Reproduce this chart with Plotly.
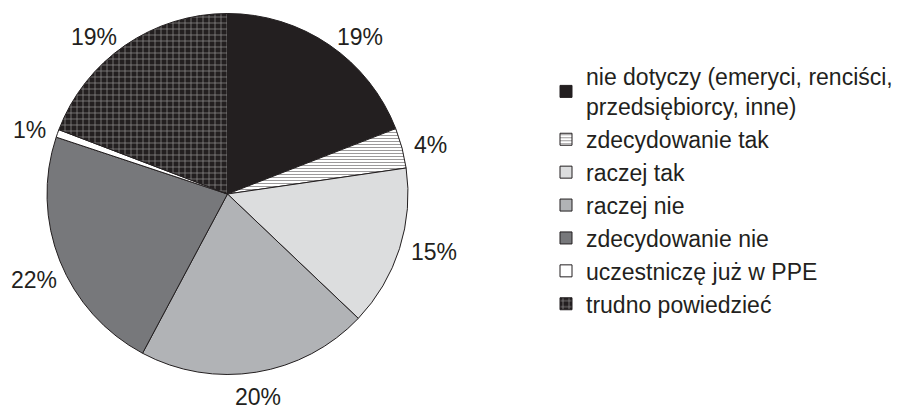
import math
import plotly.graph_objects as go

labels = [
    "nie dotyczy (emeryci, renciści,<br>przedsiębiorcy, inne)",
    "zdecydowanie tak",
    "raczej tak",
    "raczej nie",
    "zdecydowanie nie",
    "uczestniczę już w PPE",
    "trudno powiedzieć",
]
values = [19.1, 3.6, 14.4, 20.7, 22.3, 0.7, 19.2]
text_labels = ["19%", "4%", "15%", "20%", "22%", "1%", "19%"]
colors = ["#231f20", "#ffffff", "#dcddde", "#b1b3b6", "#77787b", "#ffffff", "#231f20"]
pattern_shapes = ["", "-", "", "", "", "", "+"]
pattern_fg = ["#231f20", "#231f20", "#dcddde", "#b1b3b6", "#77787b", "#ffffff", "#ffffff"]
pattern_size = [6, 3, 6, 6, 6, 6, 6]
pattern_solidity = [0.3, 0.3, 0.3, 0.3, 0.3, 0.3, 0.22]

# the page body has an 8px margin, so the figure is 8px smaller than the window
W, H = 898, 403
OFF = 8
FONT = "Liberation Sans, Arial, Helvetica, sans-serif"
INK = "#231f20"
FS = 23

dom_x = [(47 - OFF) / W, (408 - OFF) / W]
dom_y = [1 - (375 - OFF) / H, 1 - (13 - OFF) / H]

fig = go.Figure(go.Pie(
    labels=labels,
    values=values,
    textinfo="none",
    sort=False,
    direction="clockwise",
    rotation=0,
    marker=dict(
        colors=colors,
        line=dict(color=INK, width=1),
        pattern=dict(shape=pattern_shapes, bgcolor=colors, fgcolor=pattern_fg,
                     size=pattern_size, solidity=pattern_solidity, fillmode="overlay"),
    ),
    domain=dict(x=dom_x, y=dom_y),
    hoverinfo="none",
))

# percentage labels placed outside the slices, computed from the slice mid-angles
cx = (dom_x[0] + dom_x[1]) / 2 * W
cy = (1 - (dom_y[0] + dom_y[1]) / 2) * H
R = min((dom_x[1] - dom_x[0]) * W, (dom_y[1] - dom_y[0]) * H) / 2
gap = 10
total = sum(values)
cum = 0.0
for v, t in zip(values, text_labels):
    mid = (cum + v / 2) / total * 2 * math.pi
    cum += v
    s, c = math.sin(mid), math.cos(mid)
    px = cx + (R + gap) * s
    py = cy - (R + gap) * c
    xa = "left" if s > 0.3 else ("right" if s < -0.3 else "center")
    if abs(s) <= 0.3:
        ya = "bottom" if c > 0 else "top"
    elif c < -0.35:
        ya = "top"
    else:
        ya = "middle"
    est_w = FS * 0.556 * (len(t) - 1) + FS * 0.889
    if xa == "right" and px - est_w < 1:
        px, xa = 1, "left"
    fig.add_annotation(
        x=px / W, y=1 - py / H, xref="paper", yref="paper",
        text=t, showarrow=False, xanchor=xa, yanchor=ya,
        font=dict(family=FONT, size=FS, color=INK),
    )

fig.update_layout(
    width=W, height=H,
    margin=dict(l=0, r=0, t=0, b=0),
    paper_bgcolor="white",
    showlegend=True,
    legend=dict(
        x=538 / W, y=1 - 47 / H, xanchor="left", yanchor="top",
        font=dict(family=FONT, size=FS, color=INK),
        tracegroupgap=0, itemwidth=30,
    ),
    font=dict(family=FONT, color=INK),
)

fig.write_html("out.html")
